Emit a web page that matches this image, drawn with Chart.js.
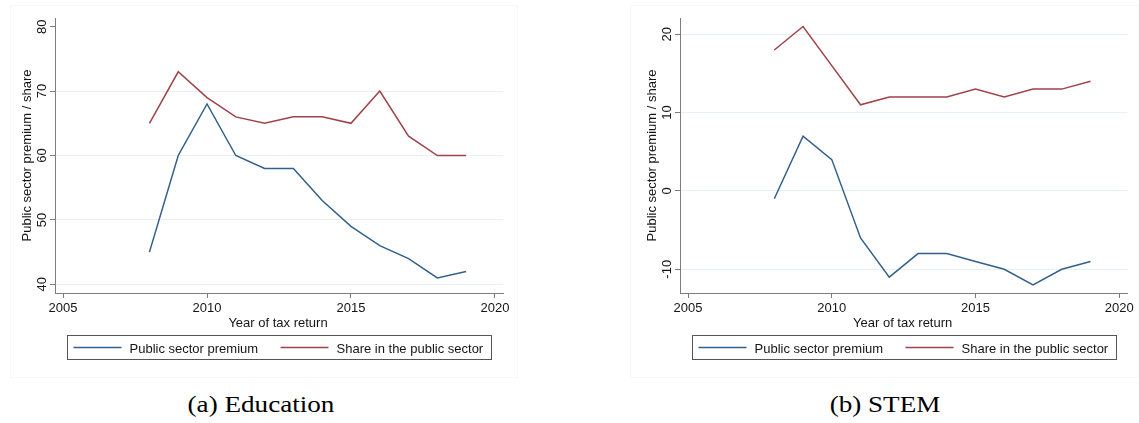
<!DOCTYPE html>
<html>
<head>
<meta charset="utf-8">
<title>Public sector premium and share</title>
<script src="https://cdn.jsdelivr.net/npm/chart.js@4.4.1/dist/chart.umd.min.js"></script>
<style>
  html, body { margin: 0; padding: 0; background: #ffffff; }
  #wrap { position: relative; width: 1139px; height: 423px; overflow: hidden; background: #ffffff; }
  .frame { position: absolute; border: 1px solid #f7f7f7; box-sizing: border-box; }
  canvas { position: absolute; top: 0; }
  .cap {
    position: absolute; top: 392px; width: 300px; height: 26px;
    font-family: "Liberation Serif", "Times New Roman", serif; font-size: 24px; line-height: 24px;
    color: #000; text-align: center; white-space: nowrap;
    transform: scaleX(1.13); transform-origin: 50% 50%;
  }
</style>
</head>
<body>
<div id="wrap">
  <div class="frame" style="left:10px; top:5px; width:508px; height:373px;"></div>
  <div class="frame" style="left:630px; top:5px; width:509px; height:373px;"></div>
  <canvas id="edu" width="520" height="370" style="left:0px;"></canvas>
  <canvas id="stem" width="519" height="370" style="left:620px;"></canvas>
  <div class="cap" style="left:111px;">(a) Education</div>
  <div class="cap" style="left:735px;">(b) STEM</div>
</div>
<script>
// Year of tax return
const years = [2008, 2009, 2010, 2011, 2012, 2013, 2014, 2015, 2016, 2017, 2018, 2019];

// Education
const eduPremium = [45, 60, 68, 60, 58, 58, 53, 49, 46, 44, 41, 42];
const eduShare   = [65, 73, 69, 66, 65, 66, 66, 65, 70, 63, 60, 60];

// STEM
const stemPremium = [-1, 7, 4, -6, -11, -8, -8, -9, -10, -12, -10, -9];
const stemShare   = [18, 21, 16, 11, 12, 12, 12, 13, 12, 13, 13, 14];

// Tick labels
const yearTicks = [2005, 2010, 2015, 2020];
const eduTicks  = [40, 50, 60, 70, 80];
const stemTicks = [-10, 0, 10, 20];
const eduGrid   = [40, 50, 60, 70];
const stemGrid  = [-10, 0, 10, 20];

const seriesNames = ['Public sector premium', 'Share in the public sector'];
const xTitle = 'Year of tax return';
const yTitle = 'Public sector premium / share';

const BLUE = '#33608a';
const RED = '#9e4349';
const AXIS = '#7c7c7c';
const GRID = '#e9f0f2';
const TEXT = '#151515';
const FONT = '"Liberation Sans", Arial, Helvetica, sans-serif';

function points(xs, ys) {
  return xs.map((x, i) => ({ x: x, y: ys[i] }));
}

// Rotated y labels, axis titles and the boxed legend under the plot
const axisText = {
  id: 'axisText',
  afterDraw(chart) {
    const ctx = chart.ctx;
    const a = chart.chartArea;
    const y = chart.scales.y;
    ctx.save();
    ctx.fillStyle = TEXT;
    ctx.font = '13px ' + FONT;

    y.ticks.forEach(t => {
      const py = y.getPixelForValue(t.value);
      ctx.save();
      ctx.translate(a.left - 9, py);
      ctx.rotate(-Math.PI / 2);
      ctx.textAlign = 'center';
      ctx.textBaseline = 'alphabetic';
      ctx.fillText(t.label, 0, 0);
      ctx.restore();
    });

    ctx.save();
    ctx.translate(a.left - 24, (a.top + a.bottom) / 2);
    ctx.rotate(-Math.PI / 2);
    ctx.textAlign = 'center';
    ctx.textBaseline = 'alphabetic';
    ctx.fillText(yTitle, 0, 0);
    ctx.restore();

    ctx.textAlign = 'center';
    ctx.textBaseline = 'alphabetic';
    ctx.fillText(xTitle, (a.left + a.right) / 2 - 1, a.bottom + 34);

    // legend
    const boxW = 424, boxH = 24;
    const bx = Math.round((a.left + a.right) / 2 - boxW / 2) + 0.5;
    const by = a.bottom + 42 + 0.5;
    ctx.strokeStyle = '#555555';
    ctx.lineWidth = 1;
    ctx.strokeRect(bx, by, boxW, boxH);
    const items = chart.data.datasets;
    const offsets = [[6, 54, 62], [213, 261, 269]];
    ctx.textAlign = 'left';
    items.forEach((ds, i) => {
      const o = offsets[i];
      ctx.strokeStyle = ds.borderColor;
      ctx.lineWidth = 1.3;
      ctx.beginPath();
      ctx.moveTo(bx + o[0], by + 12);
      ctx.lineTo(bx + o[1], by + 12);
      ctx.stroke();
      ctx.fillStyle = TEXT;
      ctx.fillText(ds.label, bx + o[2], by + 17);
    });
    ctx.restore();
  }
};

function makeChart(id, premium, share, yTicks, yGrid, yMin, yMax, yWidth, padRight) {
  return new Chart(document.getElementById(id), {
    type: 'line',
    data: {
      datasets: [
        { label: seriesNames[0], data: points(years, premium), borderColor: BLUE, borderWidth: 1.5, pointRadius: 0, tension: 0, fill: false },
        { label: seriesNames[1], data: points(years, share), borderColor: RED, borderWidth: 1.5, pointRadius: 0, tension: 0, fill: false }
      ]
    },
    options: {
      responsive: false,
      animation: false,
      events: [],
      layout: { padding: { left: 0, top: 18, right: padRight, bottom: 40 } },
      plugins: { legend: { display: false }, tooltip: { enabled: false }, title: { display: false } },
      scales: {
        x: {
          type: 'linear',
          min: 2004.72,
          max: 2020.28,
          afterBuildTicks: s => { s.ticks = yearTicks.map(v => ({ value: v })); },
          afterFit: s => { s.height = 37; },
          ticks: { callback: v => String(v), color: TEXT, font: { family: FONT, size: 13 }, padding: 3, maxRotation: 0, autoSkip: false },
          grid: { drawOnChartArea: false, drawTicks: true, tickLength: 5, tickColor: AXIS, tickWidth: 1 },
          border: { display: true, color: AXIS, width: 1 }
        },
        y: {
          type: 'linear',
          min: yMin,
          max: yMax,
          afterBuildTicks: s => { s.ticks = yTicks.map(v => ({ value: v })); },
          afterFit: s => { s.width = yWidth; },
          ticks: { display: false, callback: v => String(v) },
          grid: {
            drawTicks: true, tickLength: 5, tickColor: AXIS, tickWidth: 1, lineWidth: 1,
            color: c => (c.tick && yGrid.includes(c.tick.value)) ? GRID : 'rgba(0,0,0,0)'
          },
          border: { display: true, color: AXIS, width: 1 }
        }
      }
    },
    plugins: [axisText]
  });
}

makeChart('edu', eduPremium, eduShare, eduTicks, eduGrid, 38.65, 81.35, 55, 17);
makeChart('stem', stemPremium, stemShare, stemTicks, stemGrid, -13.03, 22.08, 60, 11.7);
</script>
</body>
</html>
